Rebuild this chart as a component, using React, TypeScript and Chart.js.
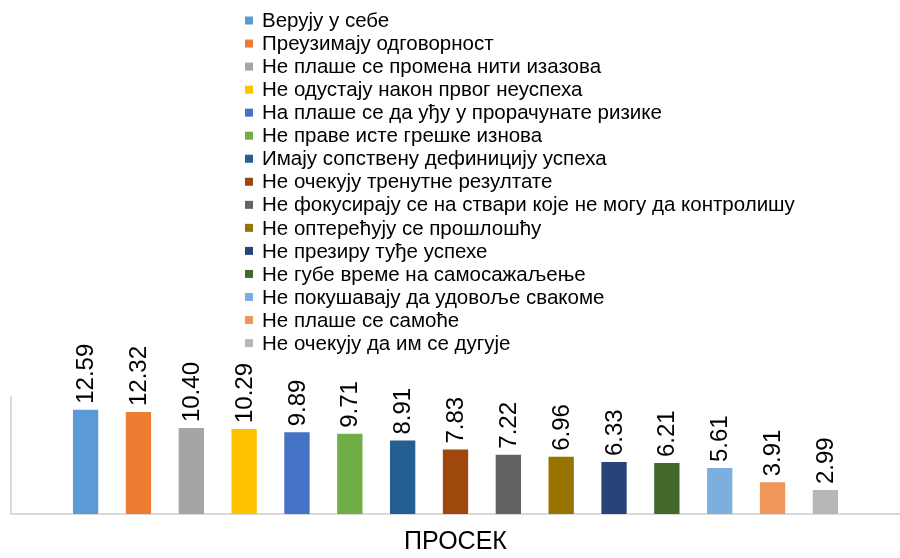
import React, { useEffect, useRef } from "react";
import { Chart, registerables } from "chart.js";

Chart.register(...registerables);

const categories = ["ПРОСЕК"];

const seriesLabels = [
  "Верују у себе",
  "Преузимају одговорност",
  "Не плаше се промена нити изазова",
  "Не одустају након првог неуспеха",
  "На плаше се да уђу у прорачунате ризике",
  "Не праве исте грешке изнова",
  "Имају сопствену дефиницију успеха",
  "Не очекују тренутне резултате",
  "Не фокусирају се на ствари које не могу да контролишу",
  "Не оптерећују се прошлошћу",
  "Не презиру туђе успехе",
  "Не губе време на самосажаљење",
  "Не покушавају да удовоље свакоме",
  "Не плаше се самоће",
  "Не очекују да им се дугује",
];

const seriesValues = [12.59, 12.32, 10.4, 10.29, 9.89, 9.71, 8.91, 7.83, 7.22, 6.96, 6.33, 6.21, 5.61, 3.91, 2.99];

const seriesColors = [
  "#5B9BD5",
  "#ED7D31",
  "#A5A5A5",
  "#FFC000",
  "#4472C4",
  "#70AD47",
  "#255E91",
  "#9E480E",
  "#636363",
  "#997300",
  "#264478",
  "#43682B",
  "#7CAFDD",
  "#F1975A",
  "#B7B7B7",
];

const FONT = "'Liberation Sans', Arial, sans-serif";

const valueLabelPlugin = {
  id: "valueLabels",
  afterDatasetsDraw(chart: any) {
    const ctx = chart.ctx;
    ctx.save();
    ctx.font = `24px ${FONT}`;
    ctx.fillStyle = "#000000";
    ctx.textAlign = "left";
    ctx.textBaseline = "middle";
    chart.data.datasets.forEach((ds: any, i: number) => {
      const meta = chart.getDatasetMeta(i);
      meta.data.forEach((bar: any, j: number) => {
        const v = ds.data[j];
        ctx.save();
        ctx.translate(bar.x + 1, bar.y - 5);
        ctx.rotate(-Math.PI / 2);
        ctx.fillText(Number(v).toFixed(2), 0, 0);
        ctx.restore();
      });
    });
    ctx.restore();
  },
};

const columnLegendPlugin = {
  id: "columnLegend",
  afterDraw(chart: any) {
    const ctx = chart.ctx;
    ctx.save();
    ctx.font = `20.5px ${FONT}`;
    ctx.textAlign = "left";
    ctx.textBaseline = "middle";
    const boxX = 245;
    const textX = 262;
    const startY = 20.5;
    const step = 23.04;
    chart.data.datasets.forEach((ds: any, i: number) => {
      const cy = startY + i * step;
      ctx.fillStyle = ds.backgroundColor;
      ctx.fillRect(boxX, cy - 4, 8, 8);
      ctx.fillStyle = "#000000";
      ctx.fillText(ds.label, textX, cy + 1);
    });
    ctx.restore();
  },
};

export default function App() {
  const canvasRef = useRef<HTMLCanvasElement | null>(null);

  useEffect(() => {
    if (!canvasRef.current) return;
    const chart = new Chart(canvasRef.current, {
      type: "bar",
      data: {
        labels: categories,
        datasets: seriesLabels.map((label, i) => ({
          label,
          data: [seriesValues[i]],
          backgroundColor: seriesColors[i],
          borderColor: "rgba(255,255,255,0.5)",
          borderWidth: 1,
          categoryPercentage: 0.8916,
          barPercentage: 0.517,
        })),
      },
      options: {
        responsive: false,
        animation: false,
        layout: { padding: { top: 397, left: 11, right: -6, bottom: -12 } },
        plugins: {
          legend: { display: false },
          tooltip: { enabled: false },
        },
        scales: {
          x: {
            grid: { display: false, drawTicks: false },
            border: { display: true, color: "#d9d9d9", width: 2 },
            ticks: { color: "#000000", font: { family: FONT, size: 25 }, padding: 13 },
          },
          y: {
            min: 0,
            max: 14,
            grid: { display: false, drawTicks: false },
            border: { display: true, color: "#d9d9d9", width: 2 },
            ticks: { display: false },
          },
        },
      },
      plugins: [valueLabelPlugin, columnLegendPlugin],
    });
    return () => chart.destroy();
  }, []);

  return (
    <div style={{ position: "absolute", left: 0, top: 0, width: 900, height: 558, background: "#ffffff" }}>
      <canvas ref={canvasRef} width={900} height={558} />
    </div>
  );
}
